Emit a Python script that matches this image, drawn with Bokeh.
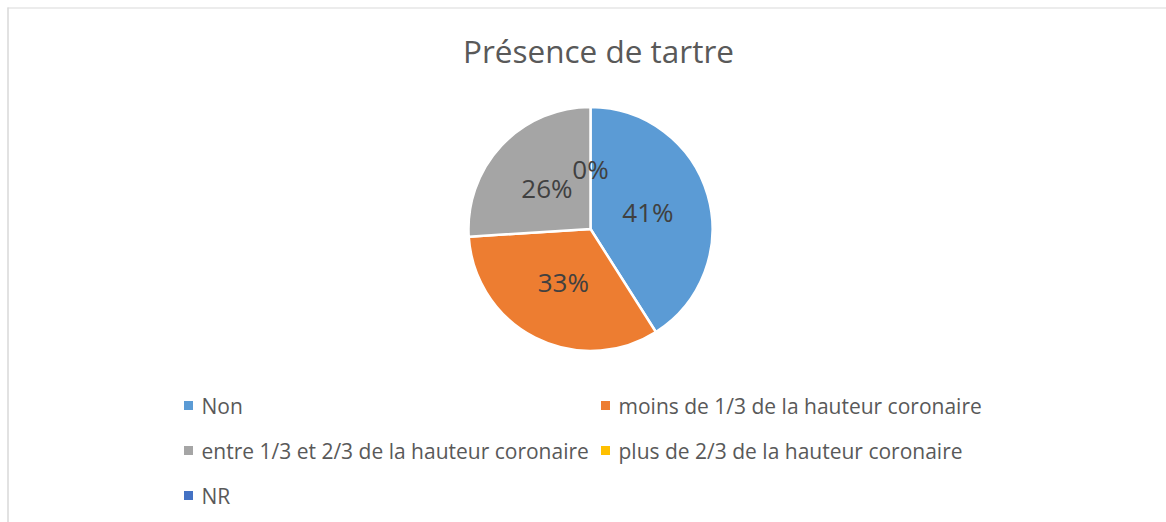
import math
from bokeh.plotting import figure
from bokeh.models import Range1d, ColumnDataSource
from bokeh.core.properties import value
from bokeh.embed import file_html
from bokeh.resources import INLINE

# ---- data ----
categories = ["Non",
              "moins de 1/3 de la hauteur coronaire",
              "entre 1/3 et 2/3 de la hauteur coronaire",
              "plus de 2/3 de la hauteur coronaire",
              "NR"]
percentages = [41, 33, 26, 0, 0]
colors = ["#5B9BD5", "#ED7D31", "#A5A5A5", "#FFC000", "#4472C4"]
title_text = "Présence de tartre"

W, H = 1166, 522
FONT = "Open Sans"

p = figure(width=W, height=H, output_backend="svg", toolbar_location=None,
           x_range=Range1d(0, W), y_range=Range1d(0, H), min_border=0)
p.axis.visible = False
p.grid.visible = False
p.outline_line_color = None
p.background_fill_color = "white"
p.border_fill_color = "white"

def Y(py):  # pixel from top -> data y
    return H - py

# frame lines (left and top)
p.line([7.5, 7.5], [0, Y(7)], line_color="#D9D9D9", line_width=1.5)
p.line([7, W], [Y(7.5), Y(7.5)], line_color="#D9D9D9", line_width=1.2)

# title
p.text(x=[598], y=[Y(50)], text=[title_text], text_font=value(FONT),
       text_font_size="31.5px", text_color="#595959", text_align="center",
       text_baseline="middle")

# pie
cx, cy, r = 590, Y(228.5), 122
total = sum(percentages)
starts, ends, wcol, lx, ly, labels = [], [], [], [], [], []
cum = 0.0
for v, c in zip(percentages, colors):
    f0 = cum / total
    f1 = (cum + v) / total
    if v > 0:
        starts.append(math.pi / 2 - 2 * math.pi * f0)
        ends.append(math.pi / 2 - 2 * math.pi * f1)
        wcol.append(c)
    mid = (f0 + f1) / 2 * 2 * math.pi
    lx.append(cx + 0.49 * r * math.sin(mid))
    ly.append(cy + 0.49 * r * math.cos(mid))
    labels.append(f"{round(v)}%")
    cum += v

src = ColumnDataSource(dict(start=starts, end=ends, color=wcol))
p.wedge(x=cx, y=cy, radius=r, start_angle="start", end_angle="end",
        direction="clock", fill_color="color", line_color="white",
        line_width=2.5, source=src)

# labels (the two zero slices share one spot: draw it once)
seen = set()
tx, ty, tt = [], [], []
for x, y, t in zip(lx, ly, labels):
    key = (round(x), round(y))
    if key in seen:
        continue
    seen.add(key)
    tx.append(x); ty.append(y); tt.append(t)
p.text(x=tx, y=ty, text=tt, text_font=value(FONT), text_font_size="26px",
       text_color="#404040", text_align="center", text_baseline="middle")

# legend (2 columns)
col_x = [188, 605]
row_y = [405, 450, 495]
mx, my, tx2, ty2 = [], [], [], []
for i, c in enumerate(categories):
    row, col = divmod(i, 2)
    mx.append(col_x[col])
    my.append(Y(row_y[row]))
    tx2.append(col_x[col] + 13)
    ty2.append(Y(row_y[row]))
p.rect(x=mx, y=my, width=9, height=9, fill_color=colors, line_color=None)
p.text(x=tx2, y=ty2, text=categories, text_font=value(FONT),
       text_font_size="21px", text_color="#595959", text_align="left",
       text_baseline="middle")

open("out.html", "w").write(file_html(p, INLINE))
